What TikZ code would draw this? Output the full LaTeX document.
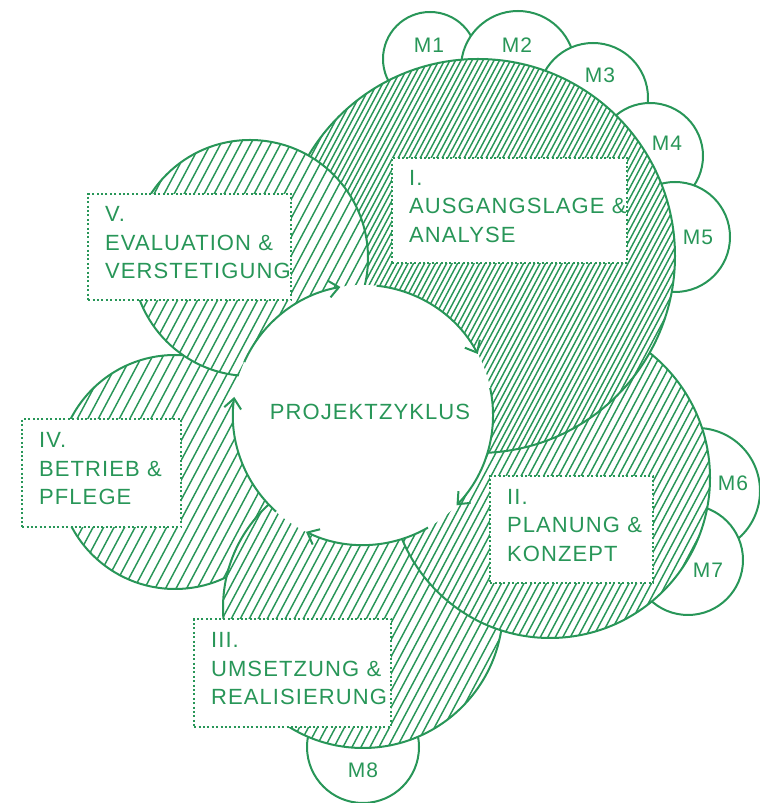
\documentclass[tikz,border=0pt]{standalone}
\usepackage{fontspec}
\setmainfont{Liberation Sans}[LetterSpace=5]
\usepackage{tikz}
\usetikzlibrary{arrows.meta,calc,positioning}
\definecolor{zgreen}{RGB}{40,150,88}

% hatched disc: x, y, radius, line spacing
\newcommand{\hatchdisc}[4]{%
  \begin{scope}
    \clip (#1,#2) circle[radius=#3];
    \fill[white] (#1,#2) circle[radius=#3];
    \pgfmathtruncatemacro{\hatchn}{#3/(0.883*#4)+1}
    \foreach \k in {-\hatchn,...,\hatchn}
      \draw[hatch] ($(#1,#2)+(\k*#4,0)+(-0.75*#3,-1.41*#3)$) -- +(1.5*#3,2.82*#3);
  \end{scope}
  \draw[ring,fill=none] (#1,#2) circle[radius=#3];}

\begin{document}
\begin{tikzpicture}[x=1pt,y=1pt,
  hatch/.style={zgreen,line width=1.45pt},
  ring/.style={draw=zgreen,line width=2pt,fill=white},
  hub/.style={circle,fill=white,minimum size=260pt,inner sep=0pt,outer sep=0pt},
  flow/.style={zgreen,line width=2pt,-{Straight Barb[length=10pt,width=17pt]}},
  phase/.style={draw=zgreen,line width=2.2pt,dash pattern=on 2pt off 2.4pt,fill=white,
    text=zgreen,align=left,inner xsep=17pt,inner ysep=2pt,anchor=north west,
    execute at end node={\rule[-9pt]{0pt}{0pt}},
    font=\fontsize{22}{28.5}\selectfont},
  mlabel/.style={text=zgreen,font=\fontsize{21}{24}\selectfont},
  hubtext/.style={text=zgreen,font=\fontsize{22}{26}\selectfont}]
\useasboundingbox (0,0) rectangle (760,803);

% M circles
\draw[ring] (430,744) circle[radius=47];
\node[mlabel] (m1) at (429,758) {M1};
\draw[ring] (518,735) circle[radius=57];
\node[mlabel] (m2) at (517,758) {M2};
\draw[ring] (593,705) circle[radius=55];
\node[mlabel] (m3) at (600,728) {M3};
\draw[ring] (650,647) circle[radius=53];
\node[mlabel] (m4) at (667,660) {M4};
\draw[ring] (675,566) circle[radius=55];
\node[mlabel] (m5) at (698,566) {M5};
\draw[ring] (697,312) circle[radius=63];
\node[mlabel] (m6) at (733,320) {M6};
\draw[ring] (688,243) circle[radius=55];
\node[mlabel] (m7) at (708,233) {M7};
\draw[ring] (363,56) circle[radius=56];
\node[mlabel] (m8) at (363,33) {M8};

% phase discs
\hatchdisc{175}{331}{117}{10.5}
\hatchdisc{363}{195}{140}{9}
\hatchdisc{550}{325}{160}{7.5}
\hatchdisc{478}{547}{197}{5.5}
\hatchdisc{250}{545}{118}{10}

% cycle
\node[hub] (zyklus) at (363,388) {};
\node[hubtext] (zykluslabel) at ([xshift=7pt,yshift=3pt]zyklus.center) {PROJEKTZYKLUS};
\foreach \a in {156,84,12,300,228}
  \draw[flow] (zyklus.\a) arc[start angle=\a, delta angle=-56, radius=130];

% phases
\node[phase,text width=201pt,minimum height=105pt] (ausgang) at (391,646) {I.\\AUSGANGSLAGE~\&\\ANALYSE};
\node[phase,text width=129pt,minimum height=107pt] (planung) at (489,328) {II.\\PLANUNG~\&\\KONZEPT};
\node[phase,text width=163pt,minimum height=108pt] (umsetzung) at (193,185) {III.\\UMSETZUNG~\&\\REALISIERUNG};
\node[phase,text width=125pt,minimum height=108pt] (betrieb) at (21,385) {IV.\\BETRIEB~\&\\PFLEGE};
\node[phase,text width=169pt,minimum height=106pt] (evaluation) at (87,610) {V.\\EVALUATION~\&\\VERSTETIGUNG};
\end{tikzpicture}
\end{document}
